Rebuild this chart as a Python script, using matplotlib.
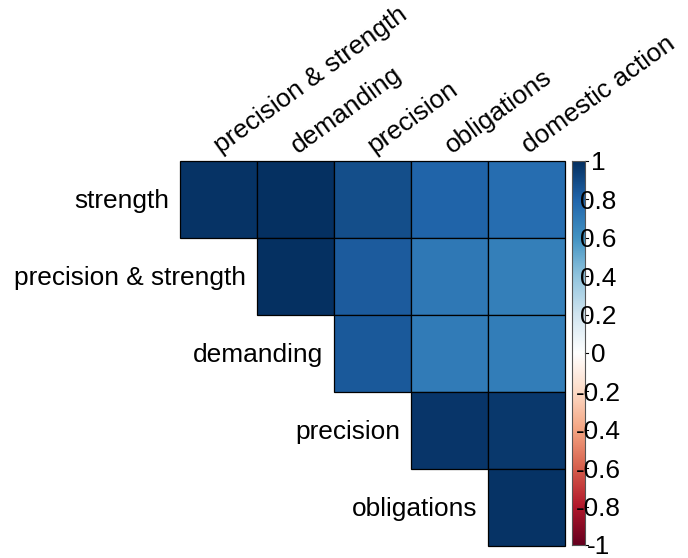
import numpy as np
import matplotlib.pyplot as plt
from matplotlib.colors import LinearSegmentedColormap, Normalize
from matplotlib.patches import Rectangle

plt.rcParams['font.family'] = ['Liberation Sans', 'DejaVu Sans']

# row / column names of the (upper triangle) correlation matrix
row_names = ["strength", "precision & strength", "demanding", "precision", "obligations"]
col_names = ["precision & strength", "demanding", "precision", "obligations", "domestic action"]

# correlations, row i starts at column i
r_strength = [0.98, 0.99, 0.88, 0.80, 0.76]
r_prec_str = [0.99, 0.83, 0.71, 0.68]
r_demanding = [0.84, 0.70, 0.69]
r_precision = [0.97, 0.96]
r_obligations = [0.98]
rows = [r_strength, r_prec_str, r_demanding, r_precision, r_obligations]

cbar_ticks = [1, 0.8, 0.6, 0.4, 0.2, 0, -0.2, -0.4, -0.6, -0.8, -1]

# corrplot RdBu palette
col2 = ["#67001F", "#B2182B", "#D6604D", "#F4A582", "#FDDBC7", "#FFFFFF",
        "#D1E5F0", "#92C5DE", "#4393C3", "#2166AC", "#053061"]
cmap = LinearSegmentedColormap.from_list("col2", col2, N=200)
norm = Normalize(-1, 1)

W, H = 688, 558
fig = plt.figure(figsize=(W / 100, H / 100), dpi=100)

def px_axes(x0, y0, x1, y1):
    return fig.add_axes([x0 / W, 1 - y1 / H, (x1 - x0) / W, (y1 - y0) / H])

fs = 18.9

ax = px_axes(180, 161, 565, 546)
ax.set_xlim(0, 5)
ax.set_ylim(5, 0)
ax.axis('off')

for i, vals in enumerate(rows):
    for k, v in enumerate(vals):
        j = i + k
        ax.add_patch(Rectangle((j, i), 1, 1, facecolor=cmap(norm(v)),
                               edgecolor='black', lw=0.9, clip_on=False))
    ax.text(i - 0.14, i + 0.61, row_names[i], ha='right', va='baseline',
            fontsize=fs, clip_on=False)

for j, name in enumerate(col_names):
    ax.text(j + 0.53, -0.09, name, rotation=36, rotation_mode='anchor',
            ha='left', va='baseline', fontsize=fs, clip_on=False)

# colour legend
cax = px_axes(572, 161, 585, 545)
grad = np.linspace(1, -1, 200).reshape(-1, 1)
cax.imshow(grad, cmap=cmap, norm=norm, aspect='auto', extent=[0, 1, -1, 1])
cax.set_xlim(0, 1)
cax.set_ylim(-1, 1)
cax.set_xticks([])
cax.set_yticks([])
for s in cax.spines.values():
    s.set_color('#555555')
    s.set_linewidth(0.8)
for t in cbar_ticks:
    cax.plot([1, 1.25], [t, t], color='black', lw=0.8, clip_on=False)
    lab = "0" if t == 0 else ("%g" % t)
    cax.text(2.0, t - 0.012, lab, ha='center', va='center', fontsize=fs,
             clip_on=False)

fig.savefig("out.png", dpi=100)
